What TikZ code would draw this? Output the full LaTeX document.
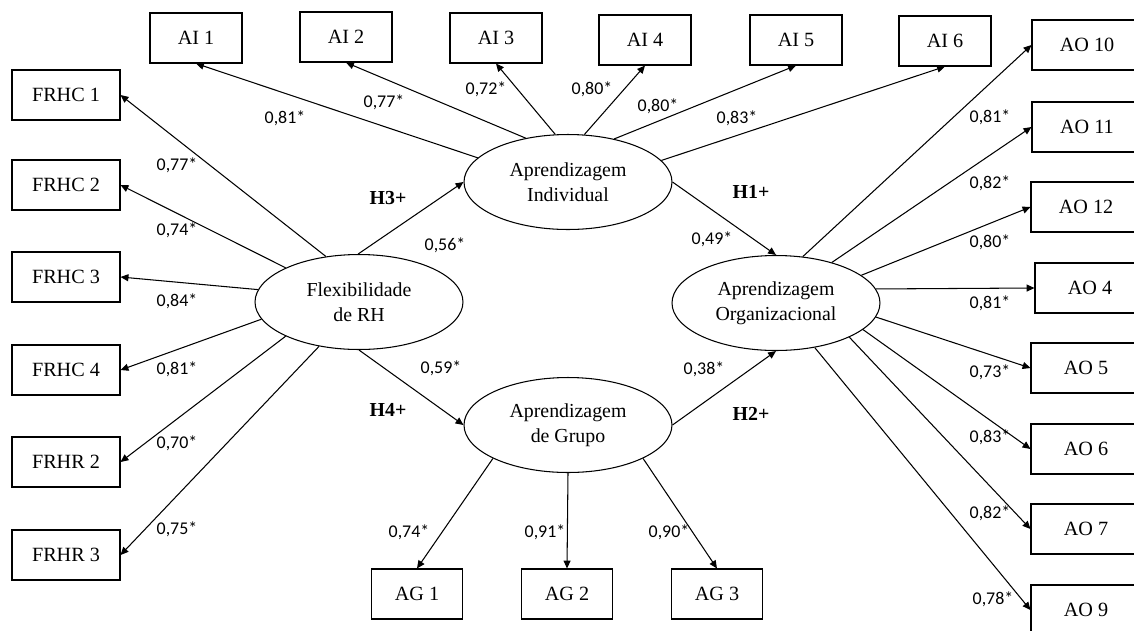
\documentclass[tikz,border=0pt]{standalone}
\usepackage{fontspec}
\setmainfont{Liberation Serif}
\newfontfamily\numfont{Carlito}
\usetikzlibrary{arrows.meta,shapes.geometric}

\tikzset{
  indic/.style={draw, line width=0.6pt, minimum height=1.0cm, inner sep=1pt,
    font=\fontsize{11.5}{13}\selectfont},
  latent/.style={draw, ellipse, line width=0.6pt, minimum width=4.16cm,
    minimum height=1.9cm, inner sep=0pt, align=center,
    font=\fontsize{11.3}{14.2}\selectfont},
  load/.style={font=\numfont\fontsize{10.2}{12}\selectfont, inner sep=0pt},
  hyp/.style={font=\bfseries\fontsize{11.3}{13}\selectfont, inner sep=0pt},
  path/.style={line width=0.6pt, -{Triangle[length=4.5pt,width=4pt]}}
}

\begin{document}
\begin{tikzpicture}[x=0.02cm, y=-0.02cm]
    \useasboundingbox (0,0) rectangle (1134,630);
    % latent constructs
    \node[latent] (ai) at (568,182) {Aprendizagem\\Individual};
    \node[latent] (flex) at (359,302) {Flexibilidade\\de RH};
    \node[latent] (ag) at (568,425) {Aprendizagem\\de Grupo};
    \node[latent] (ao) at (776,303) {Aprendizagem\\Organizacional};

    % indicators
    \node[indic, minimum width=1.84cm] (ai1) at (196,38) {AI 1};
    \node[indic, minimum width=1.84cm] (ai2) at (346,37) {AI 2};
    \node[indic, minimum width=1.84cm] (ai3) at (496,38) {AI 3};
    \node[indic, minimum width=1.84cm] (ai4) at (645,40) {AI 4};
    \node[indic, minimum width=1.84cm] (ai5) at (796,40) {AI 5};
    \node[indic, minimum width=1.84cm] (ai6) at (945,41) {AI 6};

    \node[indic, minimum width=2.16cm] (frhc1) at (66,95) {FRHC 1};
    \node[indic, minimum width=2.16cm] (frhc2) at (66,185) {FRHC 2};
    \node[indic, minimum width=2.16cm] (frhc3) at (66,277) {FRHC 3};
    \node[indic, minimum width=2.16cm] (frhc4) at (66,370) {FRHC 4};
    \node[indic, minimum width=2.16cm] (frhr2) at (66,462) {FRHR 2};
    \node[indic, minimum width=2.16cm] (frhr3) at (66,555) {FRHR 3};

    \node[indic, minimum width=1.82cm] (ag1) at (417,594) {AG 1};
    \node[indic, minimum width=1.82cm] (ag2) at (567,594) {AG 2};
    \node[indic, minimum width=1.82cm] (ag3) at (717,594) {AG 3};

    \node[indic, minimum width=2.2cm] (ao10) at (1087,45) {AO 10};
    \node[indic, minimum width=2.2cm] (ao11) at (1087,127) {AO 11};
    \node[indic, minimum width=2.2cm] (ao12) at (1086,207) {AO 12};
    \node[indic, minimum width=2.2cm] (ao4) at (1090,288) {AO 4};
    \node[indic, minimum width=2.2cm] (ao5) at (1086,368) {AO 5};
    \node[indic, minimum width=2.2cm] (ao6) at (1086,449) {AO 6};
    \node[indic, minimum width=2.2cm] (ao7) at (1086,529) {AO 7};
    \node[indic, minimum width=2.2cm] (ao9) at (1086,610) {AO 9};

    % structural paths
    \draw[path] (flex.91) -- (ai.west);
    \draw[path] (flex.south) -- (ag.west);
    \draw[path] (ai.east) -- (ao.north);
    \draw[path] (ag.east) -- (ao.south);

    % measurement paths
    \draw[path] (ai.165) -- (ai1.south);
    \draw[path] (ai.134) -- (ai2.south);
    \draw[path] (ai.105) -- (ai3.south);
    \draw[path] (ai.71) -- (ai4.south);
    \draw[path] (ai.43) -- (ai5.south);
    \draw[path] (ai.13) -- (ai6.south);

    \draw[path] (flex.126) -- (frhc1.east);
    \draw[path] (flex.155) -- (frhc2.east);
    \draw[path] (flex.173) -- (frhc3.east);
    \draw[path] (flex.190) -- (frhc4.east);
    \draw[path] (flex.205) -- (frhr2.east);
    \draw[path] (flex.228) -- (frhr3.east);

    \draw[path] (ag.204) -- (ag1.north);
    \draw[path] (ag.south) -- (ag2.north);
    \draw[path] (ag.-24) -- (ag3.north);

    \draw[path] (ao.60) -- (ao10.west);
    \draw[path] (ao.36) -- (ao11.west);
    \draw[path] (ao.18) -- (ao12.west);
    \draw[path] (ao.8) -- (ao4.west);
    \draw[path] (ao.-8) -- (ao5.west);
    \draw[path] (ao.-17) -- (ao6.west);
    \draw[path] (ao.-25) -- (ao7.west);
    \draw[path] (ao.-49) -- (ao9.west);

    % hypotheses
    \node[hyp] (h3) at (388,198) {H3+};
    \node[hyp] (h4) at (388,410) {H4+};
    \node[hyp] (h1) at (751,192) {H1+};
    \node[hyp] (h2) at (751,414) {H2+};

    % loadings
    \node[load] (lai1) at (285,118) {0,81*};
    \node[load] (lai2) at (384,102) {0,77*};
    \node[load] (lai3) at (486,89) {0,72*};
    \node[load] (lai4) at (592,89) {0,80*};
    \node[load] (lai5) at (658,106) {0,80*};
    \node[load] (lai6) at (737,118) {0,83*};

    \node[load] (lf1) at (177,165) {0,77*};
    \node[load] (lf2) at (177,230) {0,74*};
    \node[load] (lf3) at (177,301) {0,84*};
    \node[load] (lf4) at (177,369) {0,81*};
    \node[load] (lf5) at (177,443) {0,70*};
    \node[load] (lf6) at (177,529) {0,75*};

    \node[load] (lh3) at (445,245) {0,56*};
    \node[load] (lh4) at (441,368) {0,59*};
    \node[load] (lh1) at (712,239) {0,49*};
    \node[load] (lh2) at (704,369) {0,38*};

    \node[load] (lag1) at (409,532) {0,74*};
    \node[load] (lag2) at (545,532) {0,91*};
    \node[load] (lag3) at (669,532) {0,90*};

    \node[load] (lao10) at (990,117) {0,81*};
    \node[load] (lao11) at (990,183) {0,82*};
    \node[load] (lao12) at (990,242) {0,80*};
    \node[load] (lao4) at (990,303) {0,81*};
    \node[load] (lao5) at (990,372) {0,73*};
    \node[load] (lao6) at (990,437) {0,83*};
    \node[load] (lao7) at (990,513) {0,82*};
    \node[load] (lao9) at (993,599) {0,78*};
\end{tikzpicture}
\end{document}
